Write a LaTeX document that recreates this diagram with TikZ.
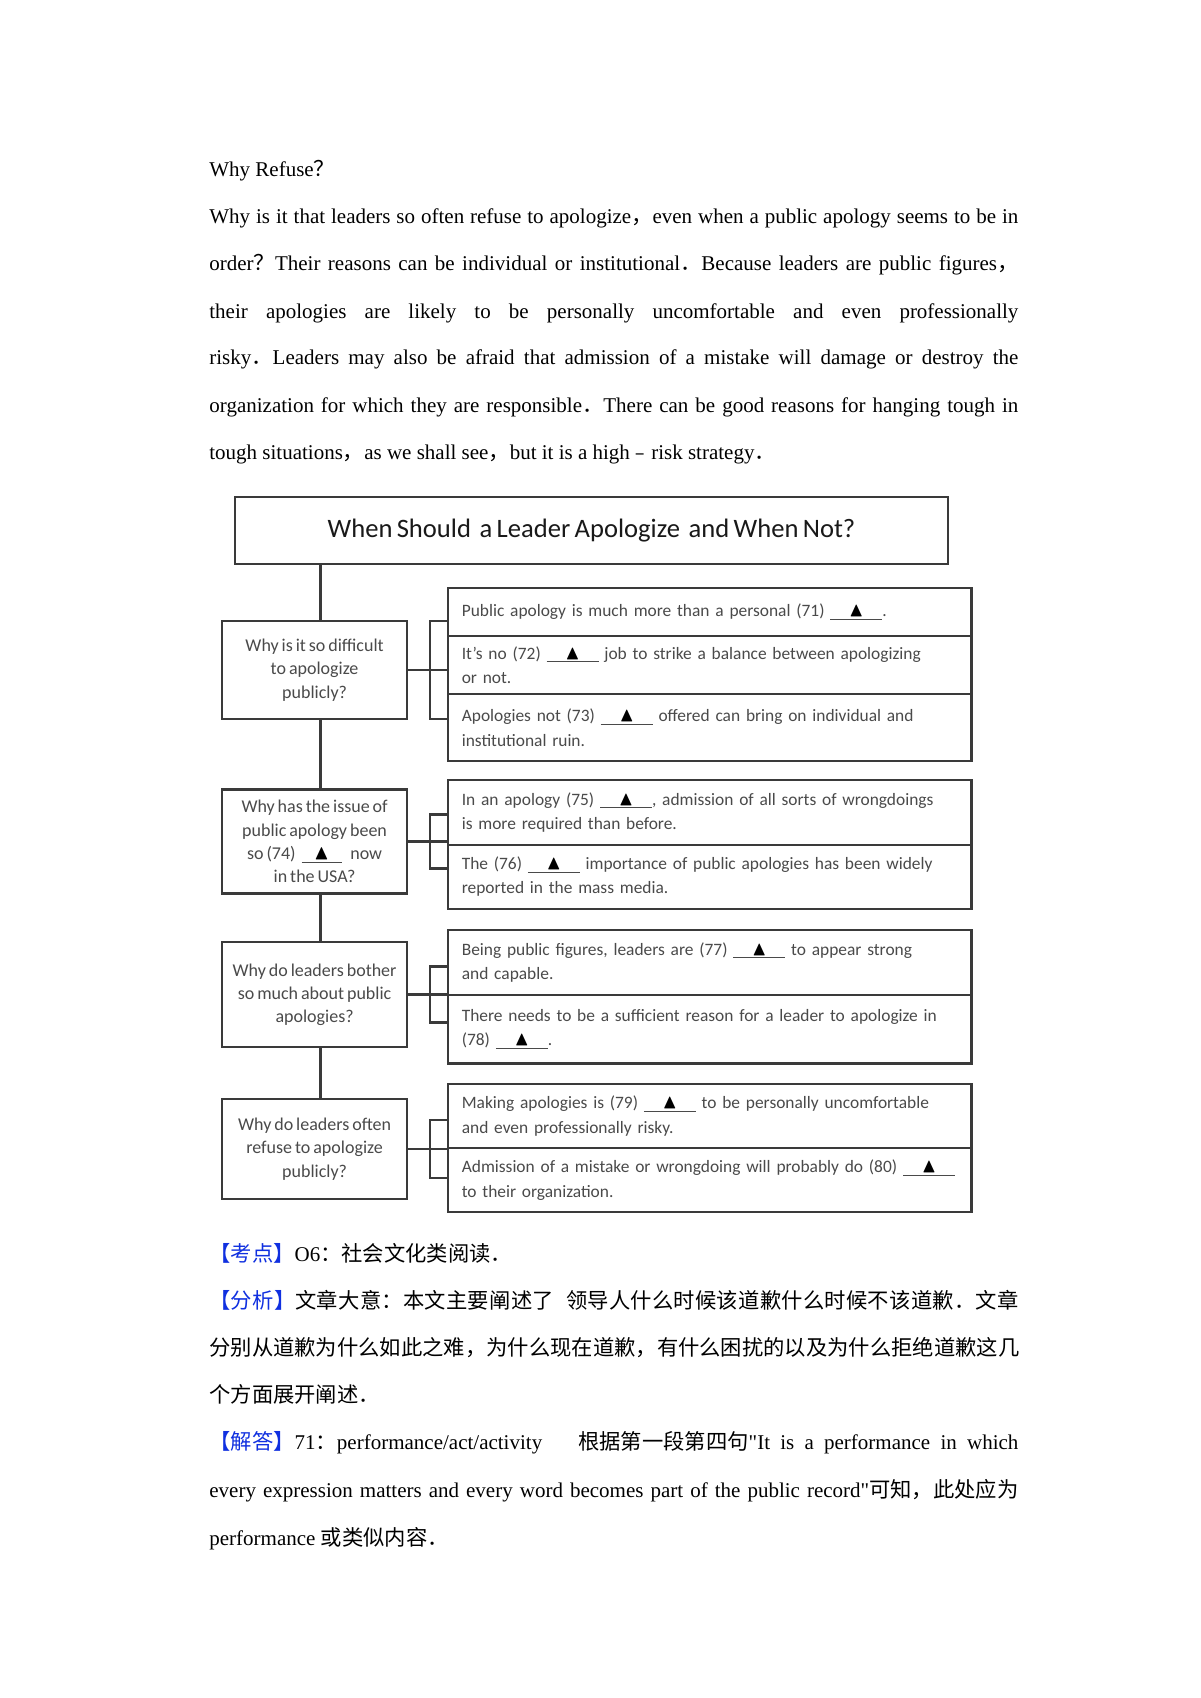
\documentclass[tikz,border=0pt]{standalone}
\usepackage{fontspec}
\usepackage{amssymb}
\usepackage{graphicx}
\setmainfont{Liberation Serif}
\newfontfamily\quotefont{Liberation Serif}
\newfontfamily\cjkfont{Noto Sans CJK SC}[Scale=1.015]
\newfontfamily\dgfont{Carlito}[WordSpace=0.72]
\usetikzlibrary{positioning}

\definecolor{boxline}{HTML}{3A3A3A}
\definecolor{boxtext}{HTML}{4A4A4A}
\definecolor{tagblue}{HTML}{1030E0}

\newcommand\zh[1]{{\cjkfont #1}}
\newcommand\qt{{\quotefont\symbol{34}}}
\newcommand\fillin[1][26pt]{\underline{\makebox[#1]{\textcolor{black}{\scalebox{1.15}{$\blacktriangle$}}}}}

\tikzset{
  txtline/.style={anchor=base west, inner sep=0pt, font=\fontsize{10.5}{12}\selectfont},
  headbox/.style={draw=boxline, line width=1.2pt, minimum width=356.5pt, minimum height=33.5pt,
    inner sep=0pt, outer sep=0pt, font=\dgfont\fontsize{13.3}{15}\selectfont, text=black!90},
  askbox/.style={draw=boxline, line width=1.2pt, minimum width=92.5pt, inner sep=0pt, outer sep=0pt,
    align=center, font=\dgfont\fontsize{9}{11.6}\selectfont, text=boxtext},
  rowbox/.style={draw=boxline, line width=1.2pt, text width=248pt, inner xsep=6.9pt, inner ysep=0pt,
    outer sep=0pt, align=left, font=\dgfont\fontsize{8.7}{12.25}\selectfont, text=boxtext},
  link/.style={draw=boxline, line width=1.2pt},
}

\begin{document}
\begin{tikzpicture}[x=0.5pt, y=-0.5pt]
  \useasboundingbox[fill=white] (0,0) rectangle (1200,1698);

  % passage
  \node[txtline] (p0) at (209,176) {Why Refuse\zh{？}};
  \node[txtline] (p1) at (209,223.5) {\hbox to 404.5pt{Why is it that leaders so often refuse to apologize\zh{，}even when a public apology seems to be in}};
  \node[txtline] (p2) at (209,270.5) {\hbox to 404.5pt{order\zh{？}Their reasons can be individual or institutional\zh{．}Because leaders are public figures\zh{，}}};
  \node[txtline] (p3) at (209,318) {\hbox to 404.5pt{their apologies are likely to be personally uncomfortable and even professionally}};
  \node[txtline] (p4) at (209,364.5) {\hbox to 404.5pt{risky\zh{．}Leaders may also be afraid that admission of a mistake will damage or destroy the}};
  \node[txtline] (p5) at (209,412) {\hbox to 404.5pt{organization for which they are responsible\zh{．}There can be good reasons for hanging tough in}};
  \node[txtline] (p6) at (209,459.5) {tough situations\zh{，}as we shall see\zh{，}but it is a high\zh{﹣}risk strategy\zh{．}};

  % chart
  \node[headbox] (title) at (591.5,530.5) {When Should\ \ a Leader Apologize\ \ and When Not?};

  \node[askbox, minimum height=49pt] (q1) at (314.6,670) {Why is it so difficult\\to apologize\\publicly?};
  \node[askbox, minimum height=52pt] (q2) at (314.6,841.5) {Why has the issue of\\public apology been\\so (74)\ \ \fillin[20pt]\ \ \ now\\in the USA?};
  \node[askbox, minimum height=52.5pt] (q3) at (314.6,994.5) {Why do leaders bother\\so much about public\\apologies?};
  \node[askbox, minimum height=50pt] (q4) at (314.6,1149) {Why do leaders often\\refuse to apologize\\publicly?};

  \node[rowbox, minimum height=24pt, anchor=north west] (a71) at (448,588) {Public apology is much more than a personal (71) \fillin.};
  \node[rowbox, minimum height=29pt, below=0pt of a71] (a72) {It’s no (72) \fillin{} job to strike a balance between apologizing\\or not.};
  \node[rowbox, minimum height=33.5pt, below=0pt of a72] (a73) {Apologies not (73) \fillin{} offered can bring on individual and\\institutional ruin.};

  \node[rowbox, minimum height=32.35pt, anchor=north west] (a75) at (448,780) {In an apology (75) \fillin, admission of all sorts of wrongdoings\\is more required than before.};
  \node[rowbox, minimum height=32pt, below=0pt of a75] (a76) {The (76) \fillin{} importance of public apologies has been widely\\reported in the mass media.};

  \node[rowbox, minimum height=32.5pt, anchor=north west] (a77) at (448,930) {Being public figures, leaders are (77) \fillin{} to appear strong\\and capable.};
  \node[rowbox, minimum height=34.25pt, below=0pt of a77] (a78) {There needs to be a sufficient reason for a leader to apologize in\\(78) \fillin.};

  \node[rowbox, minimum height=32pt, anchor=north west] (a79) at (448,1084) {Making apologies is (79) \fillin{} to be personally uncomfortable\\and even professionally risky.};
  \node[rowbox, minimum height=32pt, below=0pt of a79] (a80) {Admission of a mistake or wrongdoing will probably do (80) \fillin\\to their organization.};

  % trunk
  \coordinate (trunk) at (320.6,0);
  \draw[link] (trunk |- title.south) -- (trunk |- q1.north);
  \draw[link] (trunk |- q1.south) -- (trunk |- q2.north);
  \draw[link] (trunk |- q2.south) -- (trunk |- q3.north);
  \draw[link] (trunk |- q3.south) -- (trunk |- q4.north);

  % brackets
  \draw[link] (q1.east) -- (q1.east -| a72.west);
  \draw[link] ([yshift=24.5pt]q1.east -| a72.west) -- ++(-9pt,0) |- ([yshift=-24.5pt]q1.east -| a72.west);
  \draw[link] (q2.east) -- (q2.east -| a76.west);
  \draw[link] ([yshift=13.5pt]q2.east -| a76.west) -- ++(-9pt,0) |- ([yshift=-13.5pt]q2.east -| a76.west);
  \draw[link] (q3.east) -- (q3.east -| a78.west);
  \draw[link] ([yshift=14pt]q3.east -| a78.west) -- ++(-9pt,0) |- ([yshift=-14pt]q3.east -| a78.west);
  \draw[link] (q4.east) -- (q4.east -| a80.west);
  \draw[link] ([yshift=14.5pt]q4.east -| a80.west) -- ++(-9pt,0) |- ([yshift=-14.5pt]q4.east -| a80.west);

  % notes
  \node[txtline] (c1) at (209,1261) {\zh{\textcolor{tagblue}{【考点】}}O6\zh{：社会文化类阅读．}};
  \node[txtline] (c2) at (209,1308) {\hbox to 404.5pt{\zh{\addfontfeature{LetterSpace=1.2}\textcolor{tagblue}{【分析】}文章大意：本文主要阐述了}\hspace{6pt plus 1fil}\zh{\addfontfeature{LetterSpace=1.2}领导人什么时候该道歉什么时候不该道歉．文章}}};
  \node[txtline] (c3) at (209,1355) {\hbox to 404.5pt{\zh{分别从道歉为什么如此之难，为什么现在道歉，有什么困扰的以及为什么拒绝道歉这几}}};
  \node[txtline] (c4) at (209,1402) {\zh{个方面展开阐述．}};
  \node[txtline] (c5) at (209,1449.5) {\hbox to 404.5pt{\zh{\textcolor{tagblue}{【解答】}}71\zh{：}performance/act/activity\hspace{18pt}\zh{根据第一段第四句}\qt It is a performance in which}};
  \node[txtline] (c6) at (209,1497) {\hbox to 404.5pt{every expression matters and every word becomes part of the public record\qt\zh{可知，此处应为}}};
  \node[txtline] (c7) at (209,1545) {performance \zh{或类似内容．}};
\end{tikzpicture}
\end{document}
